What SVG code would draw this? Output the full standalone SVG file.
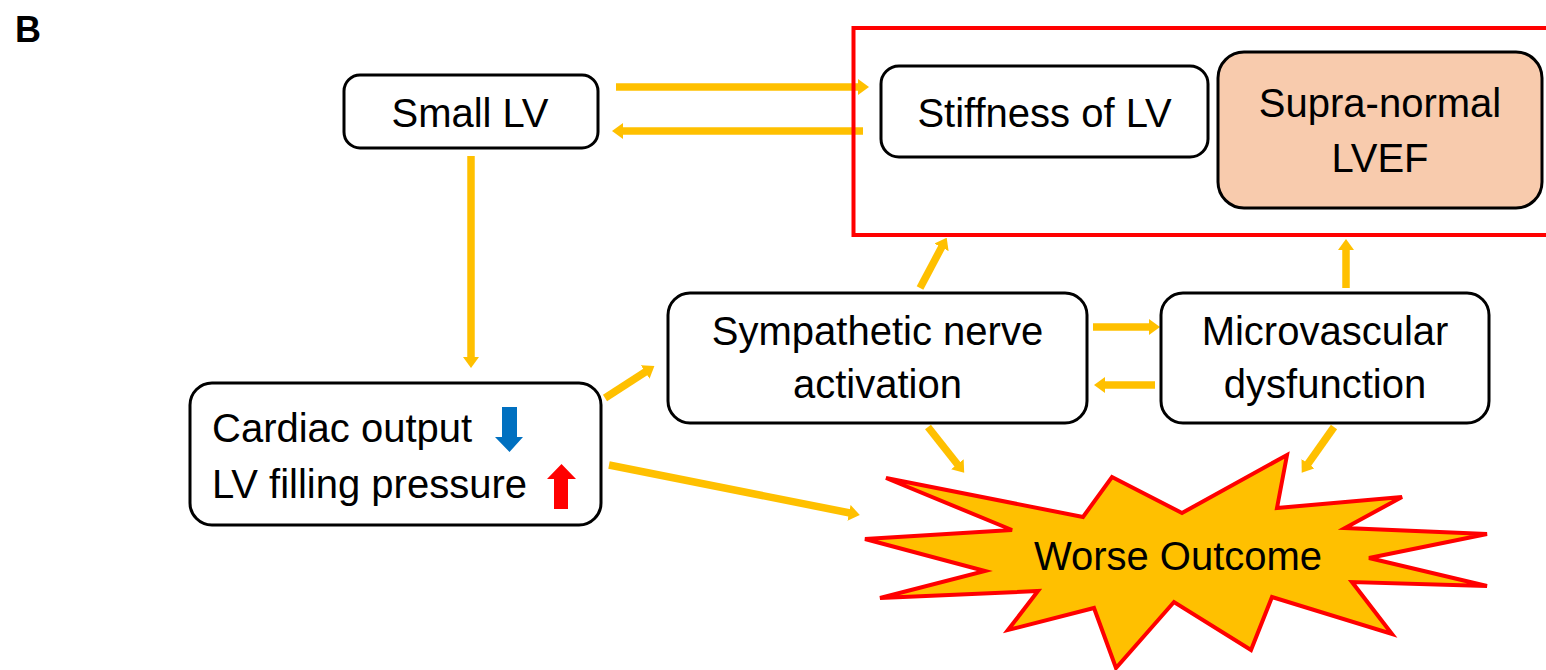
<svg xmlns="http://www.w3.org/2000/svg" width="1546" height="670" viewBox="0 0 1546 670">
  <style>
    .box { fill: #ffffff; stroke: #000000; stroke-width: 3; }
    .peach { fill: #F8CBAD; stroke: #000000; stroke-width: 3; }
    .lbl { font-family: "Liberation Sans", Arial, sans-serif; font-size: 40px; fill: #000000; }
    .mid { text-anchor: middle; }
    .conn { stroke: #FFC000; stroke-width: 7.5; fill: none; marker-end: url(#ah); }
  </style>
  <defs>
    <marker id="ah" markerUnits="userSpaceOnUse" markerWidth="11" markerHeight="16" viewBox="0 0 11 16" refX="1" refY="8" orient="auto">
      <path d="M0,0 L11,8 L0,16 z" fill="#FFC000"/>
    </marker>
  </defs>
  <rect width="1546" height="670" fill="#ffffff"/>

  <text x="15" y="42" style="font-family: 'Liberation Sans', Arial, sans-serif; font-size: 36px; font-weight: bold;">B</text>

  <g id="connectors">
    <line class="conn" x1="616" y1="87" x2="859" y2="87"/>
    <line class="conn" x1="863" y1="131" x2="622" y2="131"/>
    <line class="conn" x1="471" y1="156" x2="471" y2="358"/>
    <line class="conn" x1="605" y1="398" x2="646" y2="371.5"/>
    <line class="conn" x1="609" y1="465" x2="850" y2="513"/>
    <line class="conn" x1="920" y1="288" x2="942" y2="246.5"/>
    <line class="conn" x1="1346" y1="288" x2="1346" y2="249"/>
    <line class="conn" x1="1093" y1="327" x2="1150" y2="327"/>
    <line class="conn" x1="1155" y1="385" x2="1104" y2="385"/>
    <line class="conn" x1="928" y1="427" x2="958" y2="465"/>
    <line class="conn" x1="1334" y1="427" x2="1307.5" y2="464.5"/>
  </g>

  <rect id="group-frame" x="853.5" y="28" width="700" height="207" fill="none" stroke="#FF0000" stroke-width="4"/>

  <g id="small-lv">
    <rect class="box" x="344" y="75" width="254" height="73" rx="16"/>
    <text class="lbl mid" x="470" y="127">Small LV</text>
  </g>

  <g id="stiffness">
    <rect class="box" x="881" y="66" width="327" height="91" rx="18"/>
    <text class="lbl mid" x="1044.5" y="127">Stiffness of LV</text>
  </g>

  <g id="supra-normal">
    <rect class="peach" x="1218" y="52" width="324" height="156" rx="26"/>
    <text class="lbl mid" x="1380" y="117">Supra-normal</text>
    <text class="lbl mid" x="1380" y="172">LVEF</text>
  </g>

  <g id="sympathetic">
    <rect class="box" x="668" y="293" width="419" height="130" rx="22"/>
    <text class="lbl mid" x="877.5" y="345">Sympathetic nerve</text>
    <text class="lbl mid" x="877.5" y="398">activation</text>
  </g>

  <g id="microvascular">
    <rect class="box" x="1161" y="293" width="328" height="130" rx="22"/>
    <text class="lbl mid" x="1325" y="345">Microvascular</text>
    <text class="lbl mid" x="1325" y="398">dysfunction</text>
  </g>

  <g id="cardiac">
    <rect class="box" x="190" y="383" width="411" height="142" rx="22"/>
    <text class="lbl" x="212" y="442">Cardiac output</text>
    <text class="lbl" x="212" y="498">LV filling pressure</text>
    <polygon points="502,407 517,407 517,437 523,437 509.5,452 495,437 502,437" fill="#0070C0"/>
    <polygon points="554,509 568,509 568,479 576,479 561.5,464 547,479 554,479" fill="#FF0000"/>
  </g>

  <g id="worse-outcome">
    <polygon points="886,478 1083,517 1112,477 1182,513 1287,455 1277,508 1402,497 1345,528 1487,534 1369,558 1487,586 1352,582 1392,634 1272,597 1251,650 1174,602 1116,668 1094,608 1008,630 1038,591 880,598 985,571 865,539 1012,530" fill="#FFC000" stroke="#FF0000" stroke-width="4" stroke-linejoin="miter"/>
    <text class="lbl mid" x="1178" y="570">Worse Outcome</text>
  </g>
</svg>
